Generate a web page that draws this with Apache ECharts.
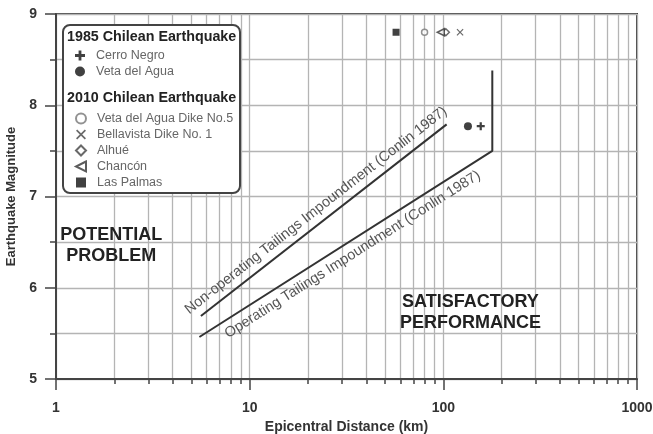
<!DOCTYPE html>
<html><head><meta charset="utf-8">
<script src="https://cdn.jsdelivr.net/npm/echarts@6/dist/echarts.min.js"></script>
<style>html,body{margin:0;padding:0;background:#fff}#c{width:653px;height:434px}</style>
</head><body><div id="c"></div>
<script>
// ---- data ----
const xMajorTicks = [1, 10, 100, 1000];
const xGridTicks = [1,2,3,4,5,6,7,8,9,10,20,30,40,50,60,70,80,90,100,200,300,400,500,600,700,800,900,1000];
const cerroNegro = [[156, 7.77]];
const vetaDelAgua = [[134, 7.77]];
const vetaDelAguaDike5 = [[80, 8.8]];
const bellavista = [[122, 8.8]];
const alhue = [[103, 8.8]];
const chancon = [[97, 8.8]];
const lasPalmas = [[57, 8.8]];
const nonOperating = [[5.6, 5.69], [104, 7.79]];
const operating = [[5.5, 5.46], [179, 7.5], [179, 8.38]];
const regionLabels = [
  { text: 'POTENTIAL\nPROBLEM', at: [1.93, 6.46] },
  { text: 'SATISFACTORY\nPERFORMANCE', at: [138, 5.73] }
];
const heading1985 = '1985 Chilean Earthquake';
const heading2010 = '2010 Chilean Earthquake';
const legend1985 = ['Cerro Negro', 'Veta del Agua'];
const legend2010 = ['Veta del Agua Dike No.5', 'Bellavista Dike No. 1', 'Alhué', 'Chancón', 'Las Palmas'];

// ---- chart ----
const FONT = 'Liberation Sans, Arial, sans-serif';
const PLUS = 'path://M3.6,0h2.8v3.6h3.6v2.8h-3.6v3.6h-2.8v-3.6h-3.6v-2.8h3.6z';
const CROSS = 'path://M1.2,0L5,3.8L8.8,0L10,1.2L6.2,5L10,8.8L8.8,10L5,6.2L1.2,10L0,8.8L3.8,5L0,1.2Z';
const LTRI = 'path://M10,0L0,5L10,10Z';
const chart = echarts.init(document.getElementById('c'));

const lineLabel = {
  show: true, color: '#555', fontFamily: FONT, fontSize: 14.5
};

chart.setOption({
  animation: false,
  backgroundColor: '#fff',
  textStyle: { fontFamily: FONT },
  grid: { left: 56, right: 16, top: 14, bottom: 55, outerBoundsMode: 'none', containLabel: false,
    show: true, borderColor: '#444', borderWidth: 2, backgroundColor: 'transparent' },
  xAxis: [{
    type: 'log', logBase: 10, min: 1, max: 1000, position: 'bottom',
    name: 'Epicentral Distance (km)', nameLocation: 'middle', nameGap: 38,
    nameTextStyle: { fontWeight: 'bold', fontSize: 14, color: '#333', fontFamily: FONT },
    axisLine: { show: true, lineStyle: { color: '#444', width: 2 } },
    axisTick: { show: true, customValues: xGridTicks, length: 5, lineStyle: { color: '#444', width: 1.5 } },
    axisLabel: { customValues: xMajorTicks, formatter: v => String(v), margin: 22, fontWeight: 'bold', fontSize: 14, color: '#333', fontFamily: FONT },
    splitLine: { show: true, lineStyle: { color: '#b4b4b4', width: 1.3 } }
  }, {
    type: 'log', logBase: 10, min: 1, max: 1000, position: 'bottom',
    axisLine: { show: false },
    axisTick: { show: true, customValues: xMajorTicks, length: 11, lineStyle: { color: '#444', width: 1.5 } },
    axisLabel: { show: false },
    splitLine: { show: false }
  }],
  yAxis: {
    type: 'value', min: 5, max: 9, interval: 1,
    name: 'Earthquake Magnitude', nameLocation: 'middle', nameGap: 35, nameRotate: 90,
    nameTextStyle: { fontWeight: 'bold', fontSize: 13, color: '#333', fontFamily: FONT },
    axisLine: { show: true, lineStyle: { color: '#444', width: 2 } },
    axisTick: { show: true, length: 11, lineStyle: { color: '#444', width: 1.5 } },
    minorTick: { show: true, splitNumber: 2, length: 6, lineStyle: { color: '#444', width: 1.5 } },
    axisLabel: { margin: 19, fontWeight: 'bold', fontSize: 14, color: '#333', fontFamily: FONT },
    splitLine: { show: true, lineStyle: { color: '#b4b4b4', width: 1.3 } },
    minorSplitLine: { show: true, lineStyle: { color: '#b4b4b4', width: 1.3 } }
  },
  legend: [{
    data: legend1985, orient: 'vertical', left: 75, top: 49, padding: 0,
    itemWidth: 10, itemHeight: 10, itemGap: 3, selectedMode: false, z: 10,
    textStyle: { color: '#666', fontSize: 12.5, fontFamily: FONT, padding: [0, 0, 0, 6] }
  }, {
    data: legend2010, orient: 'vertical', left: 75, top: 112, padding: 0,
    itemWidth: 10, itemHeight: 10, itemGap: 3, selectedMode: false, z: 10,
    textStyle: { color: '#666', fontSize: 12.5, fontFamily: FONT, padding: [0, 0, 0, 6] }
  }],
  graphic: [
    { type: 'rect', z: 5, shape: { x: 63, y: 25, width: 177, height: 168, r: 7 },
      style: { fill: '#fff', stroke: '#444', lineWidth: 2 } },
    { type: 'text', z: 6, x: 67, y: 37,
      style: { text: heading1985, font: 'bold 14.3px ' + FONT, fill: '#222', verticalAlign: 'middle' } },
    { type: 'text', z: 6, x: 67, y: 98,
      style: { text: heading2010, font: 'bold 14.3px ' + FONT, fill: '#222', verticalAlign: 'middle' } }
  ],
  series: [
    { type: 'line', name: 'Non-operating', data: nonOperating, symbol: 'none', silent: true,
      lineStyle: { color: '#333', width: 2 },
      markLine: { silent: true, symbol: 'none', lineStyle: { color: 'rgba(0,0,0,0)', width: 1 },
        label: Object.assign({}, lineLabel, { position: 'insideMiddleTop', formatter: 'Non-operating Tailings Impoundment (Conlin 1987)' }),
        data: [[{ coord: nonOperating[0] }, { coord: nonOperating[1] }]] },
      markPoint: { silent: true, symbol: 'circle', symbolSize: 0,
        label: { show: true, position: 'inside', color: '#222', fontWeight: 'bold', fontSize: 18, lineHeight: 21, fontFamily: FONT,
          formatter: p => p.data.name },
        data: regionLabels.map(r => ({ name: r.text, coord: r.at })) }
    },
    { type: 'line', name: 'Operating', data: operating, symbol: 'none', silent: true,
      lineStyle: { color: '#333', width: 2 },
      markLine: { silent: true, symbol: 'none', lineStyle: { color: 'rgba(0,0,0,0)', width: 1 },
        label: Object.assign({}, lineLabel, { position: 'insideMiddleBottom', formatter: 'Operating Tailings Impoundment (Conlin 1987)' }),
        data: [[{ coord: operating[0] }, { coord: operating[1] }]] }
    },
    { type: 'scatter', name: 'Cerro Negro', data: cerroNegro, symbol: PLUS, symbolSize: 8, itemStyle: { color: '#111' } },
    { type: 'scatter', name: 'Veta del Agua', data: vetaDelAgua, symbol: 'circle', symbolSize: 8, itemStyle: { color: '#111' } },
    { type: 'scatter', name: 'Veta del Agua Dike No.5', data: vetaDelAguaDike5, symbol: 'circle', symbolSize: 6,
      itemStyle: { color: '#fff', borderColor: '#777', borderWidth: 1.5 } },
    { type: 'scatter', name: 'Bellavista Dike No. 1', data: bellavista, symbol: CROSS, symbolSize: 7, itemStyle: { color: '#444' } },
    { type: 'scatter', name: 'Alhué', data: alhue, symbol: 'diamond', symbolSize: 7,
      itemStyle: { color: '#fff', borderColor: '#444', borderWidth: 1.5 } },
    { type: 'scatter', name: 'Chancón', data: chancon, symbol: LTRI, symbolSize: 7,
      itemStyle: { color: '#fff', borderColor: '#333', borderWidth: 1.5 } },
    { type: 'scatter', name: 'Las Palmas', data: lasPalmas, symbol: 'rect', symbolSize: 7, itemStyle: { color: '#111' } }
  ]
});
</script></body></html>
